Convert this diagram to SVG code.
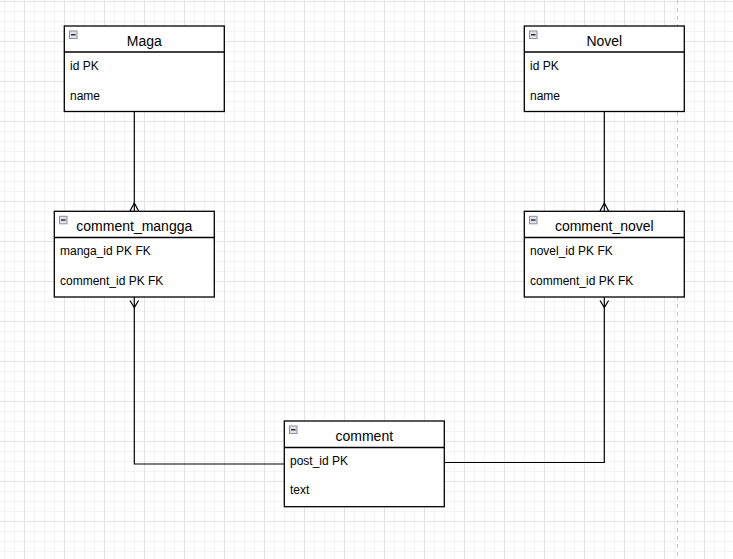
<svg xmlns="http://www.w3.org/2000/svg" width="733" height="559" viewBox="0 0 733 559">
<defs>
<style>
.box{fill:#ffffff;stroke:#000000;stroke-width:1.3}
.sep{stroke:#000000;stroke-width:1.3}
.title{font-family:"Liberation Sans",Arial,sans-serif;font-size:14px;fill:#000000;text-anchor:middle}
.row{font-family:"Liberation Sans",Arial,sans-serif;font-size:12px;fill:#000000}
.icon{fill:#dfe2ea;stroke:#8c909c;stroke-width:1}
.minus{stroke:#222222;stroke-width:1.4}
.conn{fill:none;stroke:#000000;stroke-width:1.2}
</style>
<pattern id="grid" x="24" y="1" width="40" height="40" patternUnits="userSpaceOnUse">
<path d="M10.5 0V40M20.5 0V40M30.5 0V40M0 10.5H40M0 20.5H40M0 30.5H40" stroke="#f3f3f3" stroke-width="1" fill="none"/>
<path d="M0.5 0V40M0 0.5H40" stroke="#e3e3e3" stroke-width="1" fill="none"/>
</pattern>
</defs>
<rect width="733" height="559" fill="#ffffff"/>
<rect width="733" height="559" fill="url(#grid)"/>
<line x1="677.5" y1="0" x2="677.5" y2="559" stroke="#c4c4c4" stroke-width="1" stroke-dasharray="4 4"/>

<g id="connectors">
<path class="conn" d="M134.3 111.5V211"/>
<path class="conn" d="M130 211L134.3 203L138.6 211"/>
<path class="conn" d="M604.3 111.5V211"/>
<path class="conn" d="M600 211L604.3 203L608.6 211"/>
<path class="conn" d="M134.3 297V464H284.3"/>
<path class="conn" d="M130 300.5L134.3 307.5L138.6 300.5"/>
<path class="conn" d="M444.3 462.5H604.3V297"/>
<path class="conn" d="M600 300.5L604.3 307.5L608.6 300.5"/>
</g>

<g id="node-maga">
<rect class="box" x="64.3" y="26" width="160" height="85.5"/>
<line class="sep" x1="64.3" y1="52" x2="224.3" y2="52"/>
<rect class="icon" x="69.5" y="31" width="7.5" height="7.5"/>
<line class="minus" x1="71" y1="34.75" x2="75.5" y2="34.75"/>
<text class="title" x="144.3" y="46">Maga</text>
<text class="row" x="70" y="70">id PK</text>
<text class="row" x="70" y="100">name</text>
</g>

<g id="node-novel">
<rect class="box" x="524.3" y="26" width="160" height="85.5"/>
<line class="sep" x1="524.3" y1="52" x2="684.3" y2="52"/>
<rect class="icon" x="529.5" y="31" width="7.5" height="7.5"/>
<line class="minus" x1="531" y1="34.75" x2="535.5" y2="34.75"/>
<text class="title" x="604.3" y="46">Novel</text>
<text class="row" x="530" y="70">id PK</text>
<text class="row" x="530" y="100">name</text>
</g>

<g id="node-comment-mangga">
<rect class="box" x="54.3" y="211.3" width="160" height="85.7"/>
<line class="sep" x1="54.3" y1="237.5" x2="214.3" y2="237.5"/>
<rect class="icon" x="59.5" y="216.3" width="7.5" height="7.5"/>
<line class="minus" x1="61" y1="220" x2="65.5" y2="220"/>
<text class="title" x="134.3" y="231">comment_mangga</text>
<text class="row" x="60" y="255">manga_id PK FK</text>
<text class="row" x="60" y="285">comment_id PK FK</text>
</g>

<g id="node-comment-novel">
<rect class="box" x="524.3" y="211.3" width="160" height="85.7"/>
<line class="sep" x1="524.3" y1="237.5" x2="684.3" y2="237.5"/>
<rect class="icon" x="529.5" y="216.3" width="7.5" height="7.5"/>
<line class="minus" x1="531" y1="220" x2="535.5" y2="220"/>
<text class="title" x="604.3" y="231">comment_novel</text>
<text class="row" x="530" y="255">novel_id PK FK</text>
<text class="row" x="530" y="285">comment_id PK FK</text>
</g>

<g id="node-comment">
<rect class="box" x="284.3" y="421" width="160" height="85.7"/>
<line class="sep" x1="284.3" y1="447.5" x2="444.3" y2="447.5"/>
<rect class="icon" x="289.5" y="426" width="7.5" height="7.5"/>
<line class="minus" x1="291" y1="429.75" x2="295.5" y2="429.75"/>
<text class="title" x="364.3" y="441">comment</text>
<text class="row" x="290" y="465">post_id PK</text>
<text class="row" x="290" y="494">text</text>
</g>
</svg>
